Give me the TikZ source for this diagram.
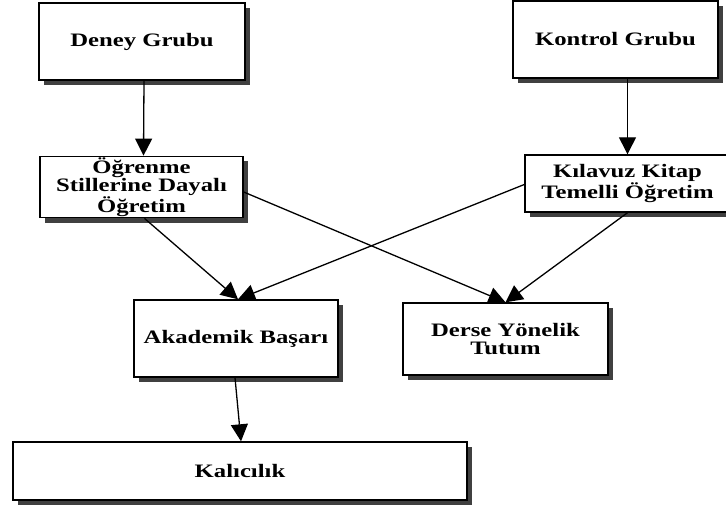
\documentclass[tikz,border=0pt]{standalone}
\usepackage{fontspec}
\newfontfamily\lbl{Liberation Serif}[FakeStretch=1.3]
\usetikzlibrary{shadows,arrows.meta,calc}
\begin{document}
\begin{tikzpicture}[x=1pt,y=-1pt,
  box/.style={draw=black, line width=1.4pt, fill=white, align=center,
    inner sep=1pt,
    font=\lbl\bfseries\fontsize{19}{18.5}\selectfont,
    drop shadow={shadow xshift=5pt, shadow yshift=-5pt, fill=black!75, opacity=1}},
  conn/.style={line width=1.3pt, -{Triangle[length=17pt,width=17pt]}}]
\useasboundingbox (0,0) rectangle (726,508);
\clip (0,0) rectangle (726,508);
\node[box, minimum width=206pt, minimum height=77pt] (deney) at (142,41.5) {Deney Grubu};
\node[box, minimum width=205pt, minimum height=77pt] (kontrol) at (615.5,39.5) {Kontrol Grubu};
\node[box, minimum width=203pt, minimum height=60pt] (ogrenme) at (141.5,187) {Öğrenme\\Stillerine Dayalı\\Öğretim};
\node[box, minimum width=205pt, minimum height=57pt] (kilavuz) at (627.5,183.5) {Kılavuz Kitap\\Temelli Öğretim};
\node[box, minimum width=204pt, minimum height=77pt] (akademik) at (236,338.5) {Akademik Başarı};
\node[box, minimum width=205pt, minimum height=72pt] (derse) at (505.5,339) {Derse Yönelik\\Tutum};
\node[box, minimum width=454pt, minimum height=58pt] (kalicilik) at (240,471) {Kalıcılık};
\draw[conn] ($(deney.south)+(2,0)$) -- ($(ogrenme.north)+(2,0)$);
\draw[conn] (kontrol.south -| kilavuz.north) -- (kilavuz.north);
\draw[conn] ($(ogrenme.south)+(3,0)$) -- ($(akademik.north)+(2,0)$);
\draw[conn] ($(kilavuz.west)+(0,1)$) -- ($(akademik.north)+(2,0)$);
\draw[conn] ($(ogrenme.east)+(0,5)$) -- (derse.north);
\draw[conn] (kilavuz.south) -- (derse.north);
\draw[conn] ($(akademik.south)+(-1,0)$) -- ($(kalicilik.north)+(1,0)$);
\end{tikzpicture}
\end{document}
